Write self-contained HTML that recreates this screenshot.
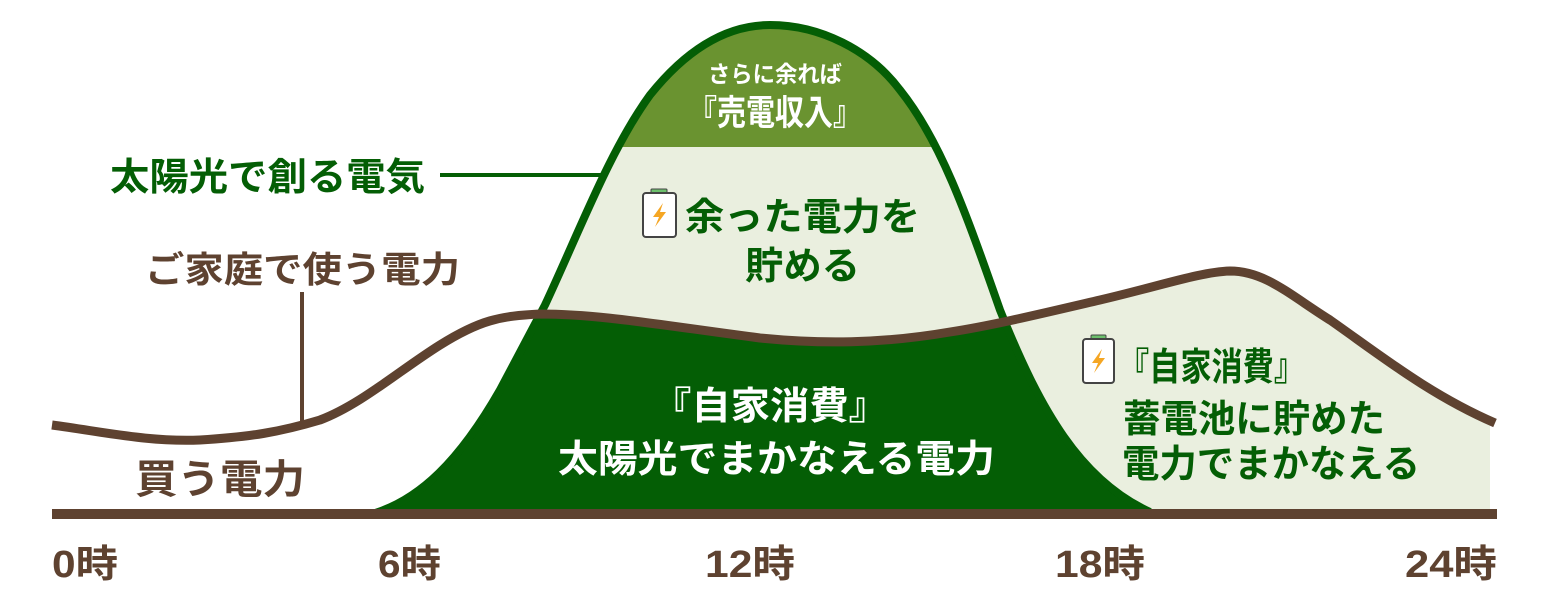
<!DOCTYPE html>
<html><head><meta charset="utf-8"><style>
html,body{margin:0;padding:0;background:#fff;}
svg{display:block}
text{font-family:"Liberation Sans","Noto Sans CJK JP",sans-serif;font-weight:bold;}
</style></head><body>
<svg width="1547" height="607" viewBox="0 0 1547 607" xmlns="http://www.w3.org/2000/svg">
<defs>
<path id="S" d="M372,514 C420,500 460,460 500,390 L545,305 C580,230 610,150 650,95 C690,45 730,25 770,25 C820,25 870,50 900,90 C940,140 965,210 1000,310 C1040,410 1080,480 1150,512 L1150,514 Z"/>
<path id="B" d="M52,425 C110,433 150,442 200,440 C250,437 280,432 320,420 C360,405 400,370 440,345 C480,320 500,316 540,314 C600,314 660,325 760,338 C820,344 880,344 950,332 C990,326 1040,314 1100,300 C1160,286 1200,272 1230,271 C1265,271 1290,295 1330,320 C1380,355 1430,395 1495,423"/>
<clipPath id="underB"><path d="M52,425 C110,433 150,442 200,440 C250,437 280,432 320,420 C360,405 400,370 440,345 C480,320 500,316 540,314 C600,314 660,325 760,338 C820,344 880,344 950,332 C990,326 1040,314 1100,300 C1160,286 1200,272 1230,271 C1265,271 1290,295 1330,320 C1380,355 1430,395 1495,423 L1490,514 L52,514 Z"/></clipPath>
<clipPath id="rightR"><rect x="990" y="0" width="500" height="514"/></clipPath>
<clipPath id="topR"><rect x="0" y="0" width="1547" height="147"/></clipPath>
</defs>
<use href="#S" fill="#eaefdf"/>
<g clip-path="url(#rightR)"><rect x="990" y="200" width="500" height="314" fill="#eaefdf" clip-path="url(#underB)"/></g>
<use href="#S" fill="#6a9330" clip-path="url(#topR)"/>
<use href="#S" fill="#045e05" clip-path="url(#underB)"/>
<path d="M372,514 C420,500 460,460 500,390 L545,305 C580,230 610,150 650,95 C690,45 730,25 770,25 C820,25 870,50 900,90 C940,140 965,210 1000,310 C1040,410 1080,480 1150,512" fill="none" stroke="#045e05" stroke-width="8"/>
<use href="#B" fill="none" stroke="#5e4230" stroke-width="9"/>
<rect x="52" y="509" width="1445" height="10" fill="#5e4230"/>
<rect x="440" y="173" width="165" height="4" fill="#045e05"/>
<rect x="300" y="292" width="4" height="135" fill="#5e4230"/>
<g lengthAdjust="spacingAndGlyphs">
<text x="110" y="190" font-size="38" fill="#045e05" textLength="315" lengthAdjust="spacingAndGlyphs">太陽光で創る電気</text>
<text x="145" y="282" font-size="36" fill="#5e4230" textLength="315" lengthAdjust="spacingAndGlyphs">ご家庭で使う電力</text>
<text x="135" y="493" font-size="40" fill="#5e4230" textLength="170" lengthAdjust="spacingAndGlyphs">買う電力</text>
<g font-size="38" fill="#5e4230">
<text x="52" y="577" textLength="66" lengthAdjust="spacingAndGlyphs">0時</text>
<text x="378" y="577" textLength="63" lengthAdjust="spacingAndGlyphs">6時</text>
<text x="705" y="577" textLength="90" lengthAdjust="spacingAndGlyphs">12時</text>
<text x="1055" y="577" textLength="90" lengthAdjust="spacingAndGlyphs">18時</text>
<text x="1405" y="577" textLength="92" lengthAdjust="spacingAndGlyphs">24時</text>
</g>
<text x="708" y="82" font-size="23" fill="#fff" textLength="134" lengthAdjust="spacingAndGlyphs">さらに余れば</text>
<text x="688" y="125" font-size="35" fill="#fff" textLength="174" lengthAdjust="spacingAndGlyphs">『売電収入』</text>
<text x="652" y="419" font-size="38" fill="#fff" textLength="236" lengthAdjust="spacingAndGlyphs">『自家消費』</text>
<text x="558" y="472" font-size="38" fill="#fff" textLength="437" lengthAdjust="spacingAndGlyphs">太陽光でまかなえる電力</text>
<text x="685" y="230" font-size="38" fill="#045e05" textLength="235" lengthAdjust="spacingAndGlyphs">余った電力を</text>
<text x="745" y="279" font-size="38" fill="#045e05" textLength="115" lengthAdjust="spacingAndGlyphs">貯める</text>
<text x="1118" y="380" font-size="38" fill="#045e05" textLength="187" lengthAdjust="spacingAndGlyphs">『自家消費』</text>
<text x="1123" y="432" font-size="38" fill="#045e05" textLength="262" lengthAdjust="spacingAndGlyphs">蓄電池に貯めた</text>
<text x="1122" y="477" font-size="38" fill="#045e05" textLength="298" lengthAdjust="spacingAndGlyphs">電力でまかなえる</text>
</g>
<g>
<rect x="651" y="189" width="16" height="5" rx="1" fill="#6cc06c" stroke="#444" stroke-width="1"/>
<rect x="643" y="193" width="33" height="44" rx="3" fill="#fff" stroke="#444" stroke-width="2"/>
<path d="M663,203 L653,217 L659,217 L655,227 L666,212 L660,212 Z" fill="#f5a623"/>
</g>
<g>
<rect x="1091" y="335" width="15" height="5" rx="1" fill="#6cc06c" stroke="#444" stroke-width="1"/>
<rect x="1083" y="339" width="31" height="44" rx="3" fill="#fff" stroke="#444" stroke-width="2"/>
<path d="M1102,349 L1092,363 L1098,363 L1094,373 L1105,358 L1099,358 Z" fill="#f5a623"/>
</g>
</svg>
</body></html>
